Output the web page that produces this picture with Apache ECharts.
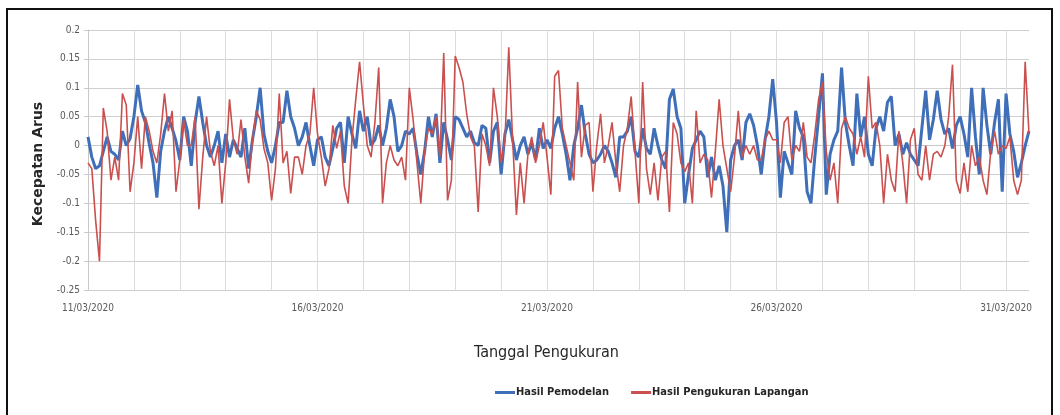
<!DOCTYPE html>
<html>
<head>
<meta charset="utf-8">
<script src="https://cdn.jsdelivr.net/npm/echarts@6/dist/echarts.min.js"></script>
<style>
  html, body { margin: 0; padding: 0; background: #fff; }
  #frame { position: absolute; left: 6px; top: 8px; width: 1047px; height: 430px; border: 2px solid #111; box-sizing: border-box; }
  #chart { position: absolute; left: 0; top: 0; width: 1060px; height: 415px; }
</style>
</head>
<body>
<div id="frame"></div>
<div id="chart"></div>
<script>
// Current speed, sampled every 2 hours from 11/03/2020 00:00
const startDate = [2020, 3, 11];
const stepHours = 2;
const dateTicks = ['11/03/2020', '16/03/2020', '21/03/2020', '26/03/2020', '31/03/2020'];
const seriesNames = ['Hasil Pemodelan', 'Hasil Pengukuran Lapangan'];

// Hasil Pemodelan (model output)
const modelValues = [
  0.015, -0.02, -0.04, -0.035, -0.01, 0.015, -0.01, -0.015, -0.025, 0.025,
  0.0, 0.012, 0.05, 0.105, 0.06, 0.04, 0.003, -0.03, -0.09, -0.01,
  0.025, 0.05, 0.03, 0.008, -0.025, 0.05, 0.025, -0.035, 0.04, 0.085,
  0.04, 0.0, -0.02, 0.0, 0.025, -0.03, 0.02, -0.02, 0.01, -0.005,
  -0.02, 0.03, -0.04, 0.01, 0.05, 0.1, 0.02, -0.01, -0.03, 0.0,
  0.04, 0.04, 0.095, 0.05, 0.03, 0.0, 0.015, 0.04, 0.0, -0.035,
  0.01, 0.015, -0.02, -0.035, -0.005, 0.03, 0.04, -0.03, 0.05, 0.02,
  -0.005, 0.06, 0.025, 0.05, 0.0, 0.01, 0.035, 0.0, 0.03, 0.08,
  0.05, -0.01, 0.0, 0.025, 0.02, 0.03, -0.015, -0.05, -0.01, 0.05,
  0.015, 0.055, -0.03, 0.04, 0.01, -0.025, 0.05, 0.045, 0.03, 0.015,
  0.025, 0.005, 0.0, 0.035, 0.03, -0.03, 0.025, 0.04, -0.05, 0.02,
  0.045, 0.01, -0.025, 0.0, 0.015, -0.015, 0.005, -0.025, 0.03, -0.005,
  0.01, -0.005, 0.03, 0.05, 0.02, -0.015, -0.06, 0.0, 0.03, 0.07,
  0.02, -0.015, -0.03, -0.025, -0.015, 0.0, -0.01, -0.03, -0.055, 0.015,
  0.015, 0.025, 0.05, -0.01, -0.02, 0.03, -0.005, -0.015, 0.03, 0.0,
  -0.025, -0.04, 0.08, 0.098, 0.05, 0.03, -0.1, -0.05, -0.005, 0.01,
  0.025, 0.015, -0.055, -0.02, -0.06, -0.035, -0.07, -0.15, -0.025, 0.0,
  0.01, -0.025, 0.04, 0.055, 0.035, 0.0, -0.05, 0.01, 0.05, 0.115,
  0.04, -0.09, -0.01, -0.03, -0.05, 0.06, 0.03, 0.015, -0.08, -0.1,
  -0.02, 0.05, 0.125, -0.085, -0.015, 0.01, 0.025, 0.135, 0.04, 0.0,
  -0.035, 0.09, 0.015, 0.05, -0.015, -0.035, 0.03, 0.05, 0.025, 0.075,
  0.085, 0.0, 0.02, -0.015, 0.005, -0.015, -0.025, -0.035, 0.03, 0.095,
  0.01, 0.045, 0.095, 0.045, 0.02, 0.03, -0.005, 0.035, 0.05, 0.02,
  -0.02, 0.1, 0.015, -0.05, 0.1, 0.035, -0.015, 0.04, 0.08, -0.08,
  0.09, 0.02, -0.01, -0.055, -0.03, 0.0, 0.025
];

// Hasil Pengukuran Lapangan (field measurement)
const fieldValues = [
  -0.03, -0.04, -0.13, -0.2, 0.065, 0.025, -0.06, -0.02, -0.06, 0.09,
  0.07, -0.08, -0.03, 0.05, -0.04, 0.05, 0.025, -0.01, -0.03, 0.02,
  0.09, 0.025, 0.06, -0.08, -0.025, 0.045, 0.0, 0.0, 0.05, -0.11,
  -0.02, 0.05, -0.01, -0.035, 0.0, -0.1, -0.03, 0.08, 0.01, -0.015,
  0.045, -0.02, -0.065, 0.01, 0.06, 0.045, -0.005, -0.03, -0.095, -0.04,
  0.09, -0.03, -0.01, -0.083, -0.02, -0.02, -0.05, 0.0, 0.02, 0.1,
  0.02, -0.02, -0.07, -0.04, 0.035, -0.005, 0.025, -0.07, -0.1, 0.01,
  0.08, 0.145, 0.07, 0.0, -0.02, 0.04, 0.135, -0.1, -0.03, 0.0,
  -0.025, -0.035, -0.02, -0.06, 0.1, 0.045, -0.03, -0.1, -0.01, 0.03,
  0.02, 0.05, -0.02, 0.16, -0.095, -0.06, 0.155, 0.135, 0.11, 0.055,
  0.015, 0.0, -0.115, 0.02, 0.0, -0.035, 0.1, 0.05, -0.03, 0.01,
  0.17, 0.01, -0.12, -0.03, -0.1, -0.015, 0.015, -0.03, 0.0, 0.04,
  -0.02, -0.085, 0.12, 0.13, 0.03, 0.0, -0.03, -0.06, 0.11, -0.02,
  0.035, 0.04, -0.08, 0.0, 0.055, -0.03, 0.0, 0.04, -0.03, -0.08,
  0.0, 0.03, 0.085, -0.01, -0.1, 0.11, -0.04, -0.085, -0.03, -0.095,
  -0.02, -0.01, -0.115, 0.04, 0.02, -0.03, -0.045, -0.03, -0.1, 0.06,
  -0.03, -0.015, -0.025, -0.09, -0.01, 0.08, 0.0, -0.04, -0.08, -0.02,
  0.06, -0.02, 0.0, -0.015, 0.0, -0.025, -0.025, 0.01, 0.025, 0.01,
  0.01, -0.03, 0.04, 0.05, -0.025, 0.0, -0.01, 0.04, -0.02, -0.03,
  0.02, 0.08, 0.11, -0.01, -0.06, -0.03, -0.1, 0.03, 0.05, 0.03,
  0.02, -0.015, 0.015, -0.02, 0.12, 0.03, 0.04, 0.0, -0.1, -0.015,
  -0.06, -0.08, 0.025, -0.03, -0.1, 0.01, 0.03, -0.05, -0.06, 0.0,
  -0.06, -0.015, -0.01, -0.02, 0.0, 0.05, 0.14, -0.06, -0.083, -0.03,
  -0.08, 0.0, -0.035, -0.02, -0.06, -0.085, -0.01, 0.025, -0.015, 0.0,
  -0.005, 0.015, -0.06, -0.085, -0.06, 0.145, 0.02
];

// x is measured in days since the start date
const toPoints = vals => vals.map((v, i) => [i * stepHours / 24, v]);
const lastDay = (Math.max(modelValues.length, fieldValues.length) - 1) * stepHours / 24;

function dayLabel(day) {
  const d = new Date(startDate[0], startDate[1] - 1, startDate[2] + day);
  const dd = String(d.getDate()).padStart(2, '0');
  const mm = String(d.getMonth() + 1).padStart(2, '0');
  return dd + '/' + mm + '/' + d.getFullYear();
}

const narrow = '"Liberation Sans Narrow", "DejaVu Sans Condensed", "Liberation Sans", sans-serif';

const chart = echarts.init(document.getElementById('chart'), null, { renderer: 'canvas' });
chart.setOption({
  animation: false,
  backgroundColor: 'transparent',
  grid: { left: 88, right: 31, top: 30, bottom: 125, containLabel: false },
  xAxis: {
    type: 'value',
    min: 0,
    max: lastDay,
    interval: 1,
    axisLine: { show: true, lineStyle: { color: '#c8c8c8', width: 1 } },
    axisTick: { show: false },
    splitLine: { show: true, showMaxLine: false, lineStyle: { color: '#dcdcdc', width: 1 } },
    axisLabel: {
      showMaxLabel: false,
      margin: 13,
      color: '#595959',
      fontFamily: narrow,
      fontSize: 10,
      formatter: v => {
        const lbl = dayLabel(Math.round(v));
        return (Math.abs(v - Math.round(v)) < 1e-6 && dateTicks.includes(lbl)) ? lbl : '';
      }
    }
  },
  yAxis: {
    type: 'value',
    min: -0.25,
    max: 0.2,
    interval: 0.05,
    name: 'Kecepatan Arus',
    nameLocation: 'middle',
    nameGap: 42,
    nameTextStyle: { fontFamily: '"DejaVu Sans", sans-serif', fontWeight: 'bold', fontSize: 14, color: '#262626', padding: [0, 0, 0, -8] },
    axisLine: { show: true, lineStyle: { color: '#c8c8c8' } },
    axisTick: { show: true, length: 4, lineStyle: { color: '#c8c8c8' } },
    splitLine: { show: true, lineStyle: { color: '#cfcfcf', width: 1 } },
    axisLabel: {
      margin: 8,
      color: '#595959',
      fontFamily: narrow,
      fontSize: 10,
      formatter: v => String(Math.round(v * 100) / 100)
    }
  },
  legend: {
    data: [
      { name: seriesNames[0], icon: 'rect' },
      { name: seriesNames[1], icon: 'rect' }
    ],
    left: 490,
    top: 382,
    itemWidth: 20,
    itemHeight: 3,
    itemGap: 22,
    textStyle: { fontFamily: narrow, fontSize: 11, fontWeight: 'bold', color: '#262626', padding: [0, 0, 0, -4] }
  },
  graphic: [
    {
      type: 'text',
      left: 474,
      top: 345,
      style: { text: 'Tanggal Pengukuran', fontFamily: narrow, fontSize: 16, fill: '#262626' }
    }
  ],
  series: [
    {
      name: seriesNames[0],
      type: 'line',
      data: toPoints(modelValues),
      showSymbol: false,
      symbol: 'none',
      lineStyle: { color: '#3f6fb8', width: 3 },
      itemStyle: { color: '#3f6fb8' },
      z: 2
    },
    {
      name: seriesNames[1],
      type: 'line',
      data: toPoints(fieldValues),
      showSymbol: false,
      symbol: 'none',
      lineStyle: { color: '#c9504e', width: 1.6 },
      itemStyle: { color: '#c9504e' },
      z: 3
    }
  ]
});
</script>
</body>
</html>
